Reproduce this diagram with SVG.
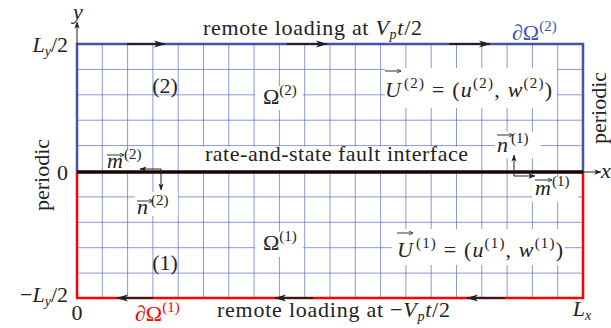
<svg xmlns="http://www.w3.org/2000/svg" width="611" height="328" viewBox="0 0 611 328">
<defs>
<style>
.t{font-family:"Liberation Serif","Times New Roman",serif;font-size:22px;fill:#222}
.i{font-style:italic}
.s{font-size:15px}
.ss{font-size:14px;font-style:italic}
.grid{stroke:#5a6cc4;stroke-width:1;fill:none;opacity:0.7}
.bg{fill:#fff}
.blue{stroke:#4353b0;stroke-width:2.5;fill:none}
.red{stroke:#ff0000;stroke-width:2.5;fill:none}
.load{stroke:#222;stroke-width:2;fill:none;marker-end:url(#ah)}
.thin{stroke:#222;stroke-width:1;fill:none;marker-end:url(#sh)}
.vec{stroke:#333;stroke-width:1;fill:none;marker-end:url(#vh)}
</style>
<marker id="ah" viewBox="0 0 12 8" refX="11" refY="4" markerWidth="13" markerHeight="8" orient="auto" markerUnits="userSpaceOnUse">
<path d="M0,0.5 L12,4 L0,7.5 L3,4 Z" fill="#222"/>
</marker>
<marker id="sh" viewBox="0 0 8 6" refX="7.5" refY="3" markerWidth="7" markerHeight="6" orient="auto" markerUnits="userSpaceOnUse">
<path d="M0,0 L8,3 L0,6 L2,3 Z" fill="#222"/>
</marker>
<marker id="vh" viewBox="0 0 6 6" refX="6" refY="3" markerWidth="5" markerHeight="5" orient="auto" markerUnits="userSpaceOnUse">
<path d="M1,0.5 L6,3 L1,5.5" fill="none" stroke="#333" stroke-width="1"/>
</marker>
</defs>

<g id="grid">
<path class="grid" d="M102.3,44V298M127.6,44V298M152.9,44V298M178.2,44V298M203.5,44V298M228.8,44V298M254.1,44V298M279.4,44V298M304.7,44V298M330,44V298M355.3,44V298M380.6,44V298M405.9,44V298M431.2,44V298M456.5,44V298M481.8,44V298M507.1,44V298M532.4,44V298M557.7,44V298M77,69.4H583M77,94.8H583M77,120.2H583M77,145.6H583M77,196.9H583M77,222.3H583M77,247.7H583M77,273.1H583"/>
</g>

<g id="label-backgrounds">
<rect class="bg" x="255" y="86" width="48" height="24"/>
<rect class="bg" x="385" y="68" width="172" height="40"/>
<rect class="bg" x="203" y="146.5" width="267" height="23.5"/>
<rect class="bg" x="105" y="150" width="46" height="20.5"/>
<rect class="bg" x="135" y="192" width="43" height="24"/>
<rect class="bg" x="495" y="132" width="46" height="26"/>
<rect class="bg" x="532" y="177" width="46" height="25"/>
<rect class="bg" x="255" y="232" width="48" height="25"/>
<rect class="bg" x="392" y="229" width="173" height="36"/>
</g>

<g id="boundaries">
<path id="boundary-2" class="blue" d="M77,172V44H583V172"/>
<path id="boundary-1" class="red" d="M77,172V298H583V172"/>
<path id="fault" d="M77,172H583" stroke="#1a0505" stroke-width="3.5" fill="none"/>
</g>

<g id="connectors">
<path class="load" d="M127,44H165"/>
<path class="load" d="M287,44H327"/>
<path class="load" d="M449,44H490"/>
<path class="load" d="M153,298H117"/>
<path class="load" d="M313,298H275"/>
<path class="load" d="M505,298H467"/>
<path class="thin" d="M77,44V22"/>
<path class="thin" d="M583,172H601"/>
<path class="thin" d="M161,169H140"/>
<path class="thin" d="M161,169V190"/>
<path class="thin" d="M514,176V155"/>
<path class="thin" d="M514,176H535"/>
</g>

<g id="vector-arrows">
<path class="vec" d="M385,71H401"/>
<path class="vec" d="M107,155H124"/>
<path class="vec" d="M137,201H153"/>
<path class="vec" d="M497,135H513"/>
<path class="vec" d="M535,180H552"/>
<path class="vec" d="M397,233H413"/>
</g>

<g id="axes-labels">
<text class="t i" x="78" y="19" text-anchor="middle">y</text>
<text class="t i" x="601" y="178">x</text>
<text class="t" x="68" y="52" text-anchor="end"><tspan class="i">L</tspan><tspan class="ss" dy="4">y</tspan><tspan dy="-4">/2</tspan></text>
<text class="t" x="68" y="180" text-anchor="end">0</text>
<text class="t" x="68" y="302" text-anchor="end">−<tspan class="i">L</tspan><tspan class="ss" dy="4">y</tspan><tspan dy="-4">/2</tspan></text>
<text class="t" x="77" y="320" text-anchor="middle">0</text>
<text class="t" x="582" y="316" text-anchor="middle"><tspan class="i">L</tspan><tspan class="ss" dy="4">x</tspan></text>
<text class="t" transform="translate(49,175) rotate(-90)" text-anchor="middle">periodic</text>
<text class="t" transform="translate(606,108) rotate(-90)" text-anchor="middle">periodic</text>
</g>

<g id="top-loading">
<text class="t" x="203" y="35" textLength="219" lengthAdjust="spacing">remote loading at <tspan class="i">V</tspan><tspan class="ss" dy="4">p</tspan><tspan class="i" dy="-4">t</tspan>/2</text>
</g>
<g id="bottom-loading">
<text class="t" x="217" y="317" textLength="233" lengthAdjust="spacing">remote loading at −<tspan class="i">V</tspan><tspan class="ss" dy="4">p</tspan><tspan class="i" dy="-4">t</tspan>/2</text>
</g>
<g id="fault-label">
<text class="t" x="205" y="161" textLength="263" lengthAdjust="spacing">rate-and-state fault interface</text>
</g>

<g id="domain-2">
<text class="t" x="512" y="40" style="fill:#4353b0">∂Ω<tspan class="s" dy="-9">(2)</tspan></text>
<text class="t" x="165" y="93" text-anchor="middle">(2)</text>
<text class="t" x="263" y="104">Ω<tspan class="s" dy="-9">(2)</tspan></text>
<text class="t" x="385" y="97" textLength="167" lengthAdjust="spacing"><tspan class="i">U</tspan><tspan class="s" dx="2" dy="-9">(2)</tspan><tspan dy="9"> = (</tspan><tspan class="i">u</tspan><tspan class="s" dy="-9">(2)</tspan><tspan dy="9">, </tspan><tspan class="i">w</tspan><tspan class="s" dy="-9">(2)</tspan><tspan dy="9">)</tspan></text>
</g>

<g id="normals">
<text class="t" x="107" y="168"><tspan class="i">m</tspan><tspan class="s" dx="1" dy="-9">(2)</tspan></text>
<text class="t" x="137" y="214"><tspan class="i">n</tspan><tspan class="s" dx="3" dy="-9">(2)</tspan></text>
<text class="t" x="497" y="152"><tspan class="i">n</tspan><tspan class="s" dx="3" dy="-9">(1)</tspan></text>
<text class="t" x="535" y="195"><tspan class="i">m</tspan><tspan class="s" dx="1" dy="-9">(1)</tspan></text>
</g>

<g id="domain-1">
<text class="t" x="165" y="270" text-anchor="middle">(1)</text>
<text class="t" x="263" y="250">Ω<tspan class="s" dy="-9">(1)</tspan></text>
<text class="t" x="397" y="257" textLength="166" lengthAdjust="spacing"><tspan class="i">U</tspan><tspan class="s" dx="2" dy="-9">(1)</tspan><tspan dy="9"> = (</tspan><tspan class="i">u</tspan><tspan class="s" dy="-9">(1)</tspan><tspan dy="9">, </tspan><tspan class="i">w</tspan><tspan class="s" dy="-9">(1)</tspan><tspan dy="9">)</tspan></text>
<text class="t" x="135" y="321" style="fill:#ff0000">∂Ω<tspan class="s" dy="-9">(1)</tspan></text>
</g>
</svg>
